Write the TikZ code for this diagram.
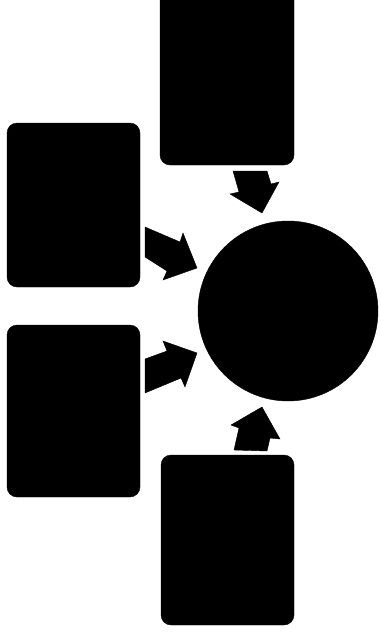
\documentclass[tikz,border=0pt]{standalone}
\begin{document}
\begin{tikzpicture}[x=1pt,y=-1pt,
  blk/.style={fill=black,draw=black,rounded corners=10pt},
  blkarrow/.style={fill=black,draw=black,line join=miter}]
\clip (0,0) rectangle (380,634);
\fill[white] (0,0) rectangle (380,634);
% boxes
\draw[blk] (160,-20) rectangle (294,165);
\draw[blk] (7,123) rectangle (140,287);
\draw[blk] (7,325) rectangle (140,497);
\draw[blk] (161,455) rectangle (294,625);
% circle
\node[circle,fill=black,draw=black,minimum size=180pt,inner sep=0pt] (hub) at (288,311) {};
% block arrows
\draw[blkarrow] (233,171) -- (267,171) -- (271,184) -- (279,182) -- (262,213) -- (230,194) -- (239,192) -- cycle;
\draw[blkarrow] (145,227) -- (180,242) -- (183,233) -- (197,268) -- (163,280) -- (167,271) -- (145,257) -- cycle;
\draw[blkarrow] (145,359) -- (167,351) -- (163,341) -- (197,353) -- (185,387) -- (181,378) -- (145,393) -- cycle;
\draw[blkarrow] (234,450) -- (267,451) -- (270,438) -- (280,439) -- (262,407) -- (231,425) -- (239,428) -- cycle;
\end{tikzpicture}
\end{document}
